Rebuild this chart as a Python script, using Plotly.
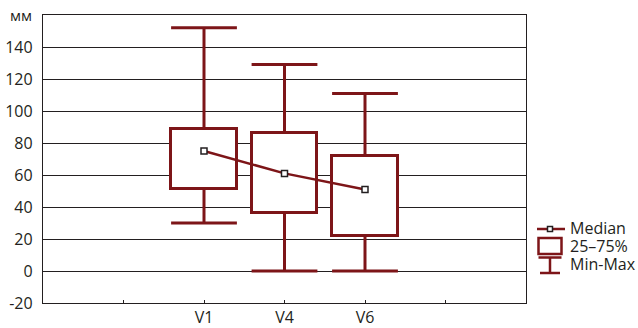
import plotly.graph_objects as go
import numpy as np

# ---- data ----
categories = ["V1", "V4", "V6"]
minimum = [30, 0, 0]
q1 = [51, 36, 22]
median = [75, 61, 51]
q3 = [89, 86, 72]
maximum = [152, 129, 111]
y_tick_vals = [-20, 0, 20, 40, 60, 80, 100, 120, 140, 160]
y_tick_text = ["-20", "0", "20", "40", "60", "80", "100", "120", "140", ""]
x_cats = [" ", "V1", "V4", "V6", "  "]
legend_labels = ["Median", "25\u201375%", "Min-Max"]
unit_label = "мм"

RED = "#7d1518"
INK = "#231f20"
FONT = "Open Sans"

W, H = 638, 328
L, R, T, B = 43, 112, 15, 25
PW, PH = W - L - R, H - T - B

def pxx(px):
    return (px - L) / PW

def pxy(py):
    return (H - B - py) / PH

q1a, q3a = np.array(q1), np.array(q3)
fig = go.Figure()

# boxes 25-75%
fig.add_trace(go.Bar(
    x=categories, base=q1, y=(q3a - q1a).tolist(), width=0.81,
    marker=dict(color="white", line=dict(color=RED, width=3)),
    showlegend=False, hoverinfo="skip"))

# whisker stems
wx, wy = [], []
for c, lo, a, b, hi in zip(categories, minimum, q1, q3, maximum):
    wx += [c, c, None, c, c, None]
    wy += [b, hi, None, a, lo, None]
fig.add_trace(go.Scatter(
    x=wx, y=wy, mode="lines", line=dict(color=RED, width=3),
    showlegend=False, hoverinfo="skip"))

# whisker caps
fig.add_trace(go.Scatter(
    x=categories + categories, y=maximum + minimum, mode="markers",
    marker=dict(symbol="line-ew", size=47, color=RED,
                line=dict(color=RED, width=3)),
    showlegend=False, hoverinfo="skip"))

# median line
fig.add_trace(go.Scatter(
    x=categories, y=median, mode="lines+markers",
    line=dict(color=RED, width=2.5),
    marker=dict(symbol="square", size=6, color="white",
                line=dict(color=INK, width=1.5)),
    showlegend=False))

# ---- manual legend ----
shapes = []
lx0, lx1, lxc = 537, 565, 550
bx0, bx1 = 538.5, 561.5
shapes.append(dict(type="line", xref="paper", yref="paper",
                   x0=pxx(lx0), x1=pxx(lx1), y0=pxy(229), y1=pxy(229),
                   line=dict(color=RED, width=2.5)))
shapes.append(dict(type="rect", xref="paper", yref="paper",
                   x0=pxx(lxc - 2.5), x1=pxx(lxc + 2.5), y0=pxy(226.5), y1=pxy(231.5),
                   fillcolor="white", line=dict(color=INK, width=1.5)))
shapes.append(dict(type="rect", xref="paper", yref="paper",
                   x0=pxx(bx0), x1=pxx(bx1), y0=pxy(238), y1=pxy(254),
                   fillcolor="white", line=dict(color=RED, width=2.5)))
shapes.append(dict(type="line", xref="paper", yref="paper",
                   x0=pxx(lxc), x1=pxx(lxc), y0=pxy(257.5), y1=pxy(273),
                   line=dict(color=RED, width=2.5)))
shapes.append(dict(type="line", xref="paper", yref="paper",
                   x0=pxx(bx0), x1=pxx(bx1), y0=pxy(257.5), y1=pxy(257.5),
                   line=dict(color=RED, width=2.5)))
shapes.append(dict(type="line", xref="paper", yref="paper",
                   x0=pxx(bx0 + 1.5), x1=pxx(bx1 - 1.5), y0=pxy(273), y1=pxy(273),
                   line=dict(color=RED, width=2.5)))

annotations = []
for label, py in zip(legend_labels, [228, 246, 264]):
    annotations.append(dict(text=label, xref="paper", yref="paper",
                            x=pxx(568), y=pxy(py), xanchor="left", yanchor="middle",
                            showarrow=False, font=dict(family=FONT, size=16, color=INK)))
annotations.append(dict(text=unit_label, xref="paper", yref="paper",
                        x=pxx(21), y=pxy(15), xanchor="center", yanchor="middle",
                        showarrow=False, font=dict(family=FONT, size=15, color=INK)))

fig.update_layout(
    width=W, height=H,
    margin=dict(l=L, r=R, t=T, b=B, autoexpand=False),
    plot_bgcolor="white", paper_bgcolor="white",
    font=dict(family=FONT, size=16, color=INK),
    shapes=shapes, annotations=annotations,
    showlegend=False, bargap=0,
)
fig.update_xaxes(
    type="category", categoryorder="array", categoryarray=x_cats,
    tickvals=x_cats, ticktext=[c.strip() for c in x_cats],
    range=[-1, 5], showgrid=False, zeroline=False,
    showline=True, mirror=True, linecolor=INK, linewidth=1.3,
    ticks="inside", ticklen=3, tickcolor=INK, tickwidth=1,
    tickfont=dict(family=FONT, size=16, color=INK),
)
fig.update_yaxes(
    range=[-20, 160], tickvals=y_tick_vals, ticktext=y_tick_text,
    showgrid=True, gridcolor=INK, gridwidth=1, zeroline=False,
    showline=True, mirror=True, linecolor=INK, linewidth=1.3,
    ticks="", ticklabelstandoff=6,
    tickfont=dict(family=FONT, size=16, color=INK),
)

fig.write_html("out.html", config={"displayModeBar": False},
               post_script="document.body.style.margin='0';document.body.style.padding='0';")
